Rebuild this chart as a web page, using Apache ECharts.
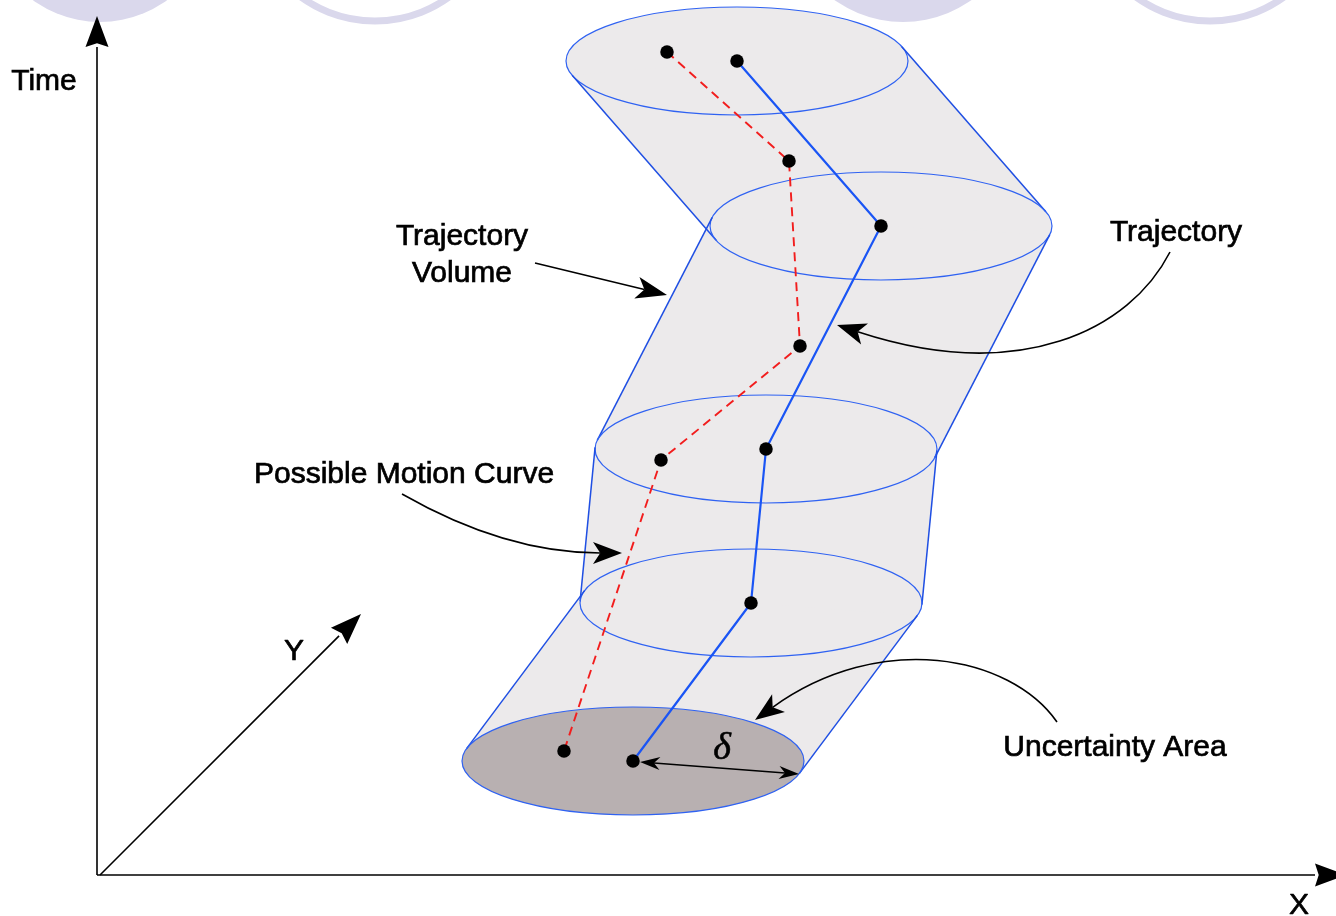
<!DOCTYPE html>
<html><head><meta charset="utf-8">
<script src="https://cdn.jsdelivr.net/npm/echarts@6/dist/echarts.min.js"></script>
<style>html,body{margin:0;padding:0;background:#fff}#c{width:1336px;height:916px}</style>
</head><body><div id="c"></div>
<script>
// ---- diagram data, in picture units (x to the right, y downward) ----
const sliceCenters = [[737,61],[881,226],[766,449],[751,603],[633,761]]; // trajectory samples = centres of the uncertainty slices
const sliceRadii = [171,54];
const motionCurve = [[667,52],[789,161],[800,346],[661,460],[564,751]];
const decorDiscs = [[100,-92,114],[903,-96,118]];
const decorRings = [[375,-105,126],[1210,-105,126]];
const axisArrows = [[[97,875],[97,16]],[[97,875],[1346,875]],[[100,875],[361,614]]];
const labelTexts = ['Time','X','Y','Trajectory','Volume','Trajectory','Possible Motion Curve','Uncertainty Area'];
const labelPos = [[44,82],[1299,906],[294,652],[462,237],[462,274],[1176,233],[404,475],[1115,748]];
const straightPointers = [[[535,263],[667,295]]];
const curvedPointers = [
  [[1170,252],[1130,330],[1020,385],[837,325]],
  [[402,494],[465,530],[530,553],[622,553]],
  [[1057,722],[1010,655],[880,630],[755,720]]
];
const deltaArrow = [[640,762],[799,774]];
const deltaPos = [722,749];

const FONT = '30px "Liberation Sans", Arial, Helvetica, sans-serif';

function head(tip, from, len, hw, notch) {
  const dx = tip[0]-from[0], dy = tip[1]-from[1];
  const L = Math.hypot(dx,dy), ux = dx/L, uy = dy/L, nx = -uy, ny = ux;
  const bx = tip[0]-ux*len, by = tip[1]-uy*len;
  return [tip.slice(), [bx+nx*hw, by+ny*hw], [tip[0]-ux*len*(1-notch), tip[1]-uy*len*(1-notch)], [bx-nx*hw, by-ny*hw]];
}
function tangentOffset(c0, c1, r) {
  const dx = c1[0]-c0[0], dy = c1[1]-c0[1];
  const th = Math.atan2(-r[1]*dx, r[0]*dy);
  return [r[0]*Math.cos(th), r[1]*Math.sin(th)];
}

const chart = echarts.init(document.getElementById('c'), null, {renderer:'canvas'});
const single = [[0,0]];
chart.setOption({
  animation:false,
  backgroundColor:'#ffffff',
  grid:{left:0,right:0,top:0,bottom:0},
  xAxis:{type:'value',min:0,max:1336,show:false},
  yAxis:{type:'value',min:0,max:916,inverse:true,show:false},
  series:[
    { // decorative lavender shapes along the top edge
      type:'custom', clip:false, z:1, data:single, encode:{x:0,y:1}, silent:true,
      renderItem(params, api){
        const ch = [];
        decorDiscs.forEach(d=>{ const c = api.coord([d[0],d[1]]); const r = api.size([d[2],d[2]])[0];
          ch.push({type:'circle',shape:{cx:c[0],cy:c[1],r:r},style:{fill:'#DAD8EC'}}); });
        decorRings.forEach(d=>{ const c = api.coord([d[0],d[1]]); const r = api.size([d[2],d[2]])[0];
          ch.push({type:'circle',shape:{cx:c[0],cy:c[1],r:r},style:{fill:null,stroke:'#DAD8EC',lineWidth:7}}); });
        return {type:'group',children:ch};
      }
    },
    { // trajectory volume fill
      type:'custom', clip:false, z:2, data:sliceCenters, encode:{x:0,y:1}, silent:true,
      renderItem(params, api){
        const i = params.dataIndex;
        const c = api.coord(sliceCenters[i]);
        const r = api.size(sliceRadii);
        const ch = [{type:'ellipse',shape:{cx:c[0],cy:c[1],rx:r[0],ry:r[1]},style:{fill:'#ECEAEB'}}];
        if (i < sliceCenters.length-1) {
          const c1 = api.coord(sliceCenters[i+1]);
          const p = tangentOffset(c, c1, r);
          ch.push({type:'polygon',shape:{points:[[c[0]+p[0],c[1]+p[1]],[c1[0]+p[0],c1[1]+p[1]],[c1[0]-p[0],c1[1]-p[1]],[c[0]-p[0],c[1]-p[1]]]},style:{fill:'#ECEAEB'}});
        }
        return {type:'group',children:ch};
      }
    },
    { // uncertainty area (base slice)
      type:'custom', clip:false, z:3, data:[sliceCenters[sliceCenters.length-1]], encode:{x:0,y:1}, silent:true,
      renderItem(params, api){
        const c = api.coord([api.value(0),api.value(1)]);
        const r = api.size(sliceRadii);
        return {type:'ellipse',shape:{cx:c[0],cy:c[1],rx:r[0],ry:r[1]},style:{fill:'#B8B0B1'}};
      }
    },
    { // slice outlines and volume sides
      type:'custom', clip:false, z:4, data:sliceCenters, encode:{x:0,y:1}, silent:true,
      renderItem(params, api){
        const i = params.dataIndex;
        const c = api.coord(sliceCenters[i]);
        const r = api.size(sliceRadii);
        const ch = [{type:'ellipse',shape:{cx:c[0],cy:c[1],rx:r[0],ry:r[1]},style:{fill:null,stroke:'#2F62F2',lineWidth:1.2}}];
        if (i < sliceCenters.length-1) {
          const c1 = api.coord(sliceCenters[i+1]);
          const p = tangentOffset(c, c1, r);
          [1,-1].forEach(s=>ch.push({type:'line',shape:{x1:c[0]+s*p[0],y1:c[1]+s*p[1],x2:c1[0]+s*p[0],y2:c1[1]+s*p[1]},style:{stroke:'#1F4FE3',lineWidth:1.5}}));
        }
        return {type:'group',children:ch};
      }
    },
    { type:'line', z:5, data:sliceCenters, showSymbol:false, symbol:'none', silent:true,
      lineStyle:{color:'#1A55F5',width:2.2} },
    { type:'line', z:5, data:motionCurve, showSymbol:false, symbol:'none', silent:true,
      lineStyle:{color:'#F21D1D',width:1.9,type:[9,6]} },
    { type:'scatter', z:6, data:sliceCenters.concat(motionCurve), symbol:'circle', symbolSize:13.5, silent:true,
      itemStyle:{color:'#000',opacity:1} },
    { // axes
      type:'custom', clip:false, z:7, data:single, encode:{x:0,y:1}, silent:true,
      renderItem(params, api){
        const ch = [];
        axisArrows.forEach(a=>{
          const p0 = api.coord(a[0]), p1 = api.coord(a[1]);
          const h = head(p1, p0, 31, 11.5, 0.12);
          ch.push({type:'line',shape:{x1:p0[0],y1:p0[1],x2:(h[1][0]+h[3][0])/2,y2:(h[1][1]+h[3][1])/2},style:{stroke:'#000',lineWidth:1.6}});
          ch.push({type:'polygon',shape:{points:h},style:{fill:'#000'}});
        });
        return {type:'group',children:ch};
      }
    },
    { // pointers
      type:'custom', clip:false, z:8, data:single, encode:{x:0,y:1}, silent:true,
      renderItem(params, api){
        const ch = [];
        straightPointers.forEach(a=>{
          const p0 = api.coord(a[0]), p1 = api.coord(a[1]);
          const h = head(p1, p0, 31, 11, 0.25);
          ch.push({type:'line',shape:{x1:p0[0],y1:p0[1],x2:h[2][0],y2:h[2][1]},style:{stroke:'#000',lineWidth:1.6}});
          ch.push({type:'polygon',shape:{points:h},style:{fill:'#000'}});
        });
        curvedPointers.forEach(b=>{
          const q = b.map(pt=>api.coord(pt));
          const h = head(q[3], q[2], 29, 11, 0.25);
          ch.push({type:'bezierCurve',shape:{x1:q[0][0],y1:q[0][1],cpx1:q[1][0],cpy1:q[1][1],cpx2:q[2][0],cpy2:q[2][1],x2:h[2][0],y2:h[2][1]},style:{stroke:'#000',lineWidth:1.6,fill:null}});
          ch.push({type:'polygon',shape:{points:h},style:{fill:'#000'}});
        });
        const d0 = api.coord(deltaArrow[0]), d1 = api.coord(deltaArrow[1]);
        const ha = head(d0, d1, 20, 6.5, 0.3), hb = head(d1, d0, 20, 6.5, 0.3);
        ch.push({type:'line',shape:{x1:ha[2][0],y1:ha[2][1],x2:hb[2][0],y2:hb[2][1]},style:{stroke:'#000',lineWidth:1.6}});
        ch.push({type:'polygon',shape:{points:ha},style:{fill:'#000'}});
        ch.push({type:'polygon',shape:{points:hb},style:{fill:'#000'}});
        const dp = api.coord(deltaPos);
        ch.push({type:'text',style:{text:'δ',x:dp[0],y:dp[1],align:'center',verticalAlign:'middle',fill:'#000',
          stroke:'#000',lineWidth:0.6,font:'italic 38px "Liberation Serif", "Times New Roman", serif'}});
        return {type:'group',children:ch};
      }
    },
    { // labels
      type:'custom', clip:false, z:9, data:labelPos, encode:{x:0,y:1}, silent:true,
      renderItem(params, api){
        const i = params.dataIndex;
        const p = api.coord(labelPos[i]);
        return {type:'text',style:{text:labelTexts[i],x:p[0],y:p[1],align:'center',verticalAlign:'middle',fill:'#000',
          stroke:'#000',lineWidth:0.7,font:FONT}};
      }
    }
  ]
});
</script>
</body></html>
